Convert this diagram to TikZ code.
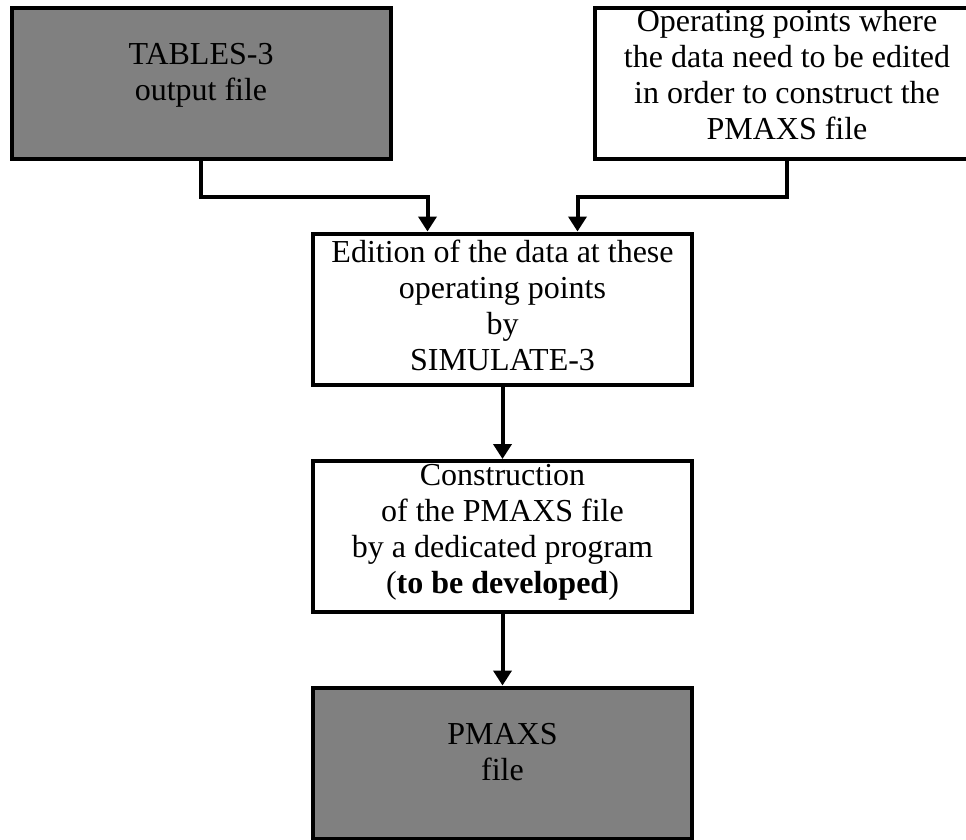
\documentclass[tikz,border=0pt]{standalone}
\usepackage{fontspec}
\setmainfont{Liberation Serif}
\usetikzlibrary{arrows.meta}
\definecolor{boxgrey}{HTML}{808080}
\tikzset{
  box/.style={draw, line width=4pt, rectangle, minimum width=379pt,
    minimum height=151pt, align=center, inner sep=0pt, text depth=15pt,
    font=\fontsize{32}{36}\selectfont},
  dark/.style={box, fill=boxgrey, text depth=22pt},
  flow/.style={line width=4pt, -{Triangle[width=18pt,length=15pt]}},
}
\begin{document}
\begin{tikzpicture}[x=1pt,y=-1pt]
\useasboundingbox (0,0) rectangle (966,839);
% nodes
\node[dark] (T) at (201,83) {TABLES-3\\output file};
\node[box, minimum width=384pt, text depth=18pt] (P) at (787,83)
  {Operating points where\\the data need to be edited\\in order to construct the\\PMAXS file};
\node[box, text depth=7pt] (E) at (502.5,309)
  {Edition of the data at these\\operating points\\by\\SIMULATE-3};
\node[box] (C) at (502.5,536.5)
  {Construction\\of the PMAXS file\\by a dedicated program\\(\textbf{to be developed})};
\node[dark] (M) at (502.5,763) {PMAXS\\file};

% arrows
\draw[flow] (T.south) -- ++(0,36) -| ([xshift=-75pt]E.north);
\draw[flow] (P.south) -- ++(0,36) -| ([xshift=75pt]E.north);
\draw[flow] (E) -- (C);
\draw[flow] (C) -- (M);
\end{tikzpicture}
\end{document}
